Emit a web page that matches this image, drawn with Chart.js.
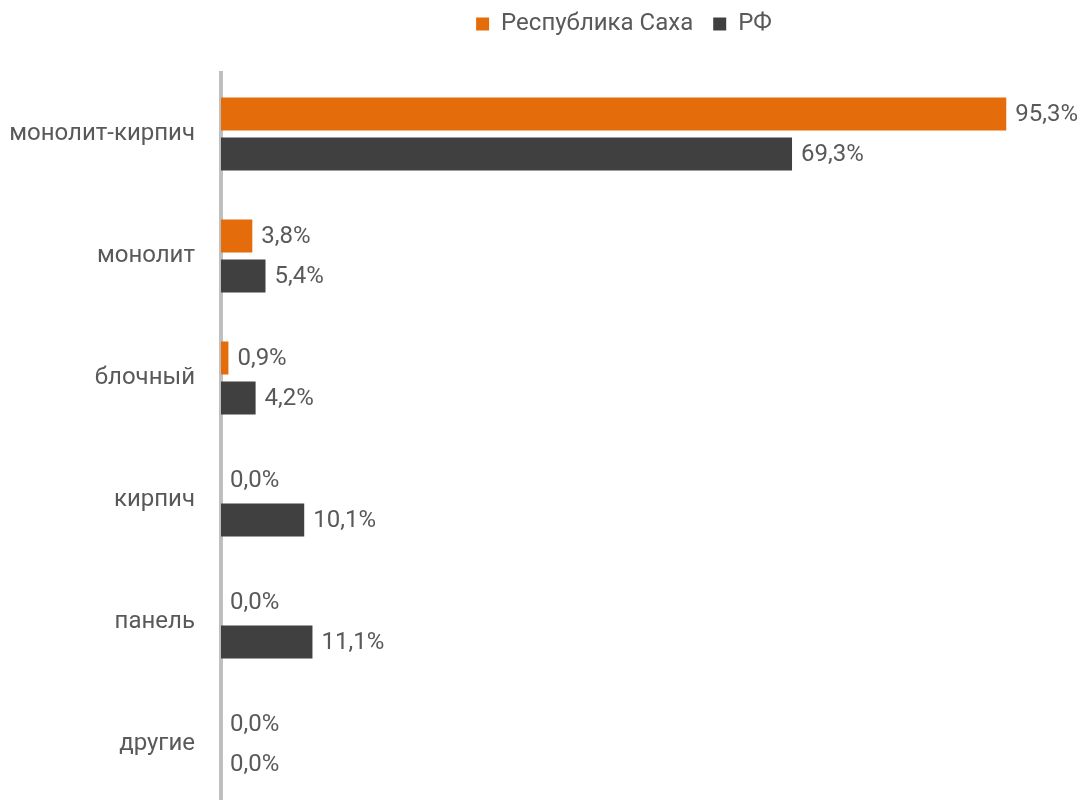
<!DOCTYPE html>
<html>
<head>
<meta charset="utf-8">
<script src="https://cdn.jsdelivr.net/npm/chart.js@4"></script>
<style>
  body { margin: 0; background: #fff; }
  canvas { display: block; }
</style>
</head>
<body>
<canvas id="chart" width="1084" height="800"></canvas>
<script>
// Типы стен в жилом строительстве — Республика Саха vs РФ
const categories = ['монолит-кирпич', 'монолит', 'блочный', 'кирпич', 'панель', 'другие'];
const sakhaValues = [95.3, 3.8, 0.9, 0.0, 0.0, 0.0];
const rfValues = [69.3, 5.4, 4.2, 10.1, 11.1, 0.0];
const seriesNames = ['Республика Саха', 'РФ'];

const textColor = '#595959';
const font = 'Roboto';

// percent labels at the end of each bar
const valueLabels = {
  id: 'valueLabels',
  afterDatasetsDraw(chart) {
    const ctx = chart.ctx;
    ctx.save();
    ctx.font = '24px ' + font;
    ctx.fillStyle = textColor;
    ctx.textAlign = 'left';
    ctx.textBaseline = 'middle';
    chart.data.datasets.forEach((ds, i) => {
      chart.getDatasetMeta(i).data.forEach((bar, j) => {
        const txt = ds.data[j].toFixed(1).replace('.', ',') + '%';
        ctx.fillText(txt, bar.x + 9, bar.y + 1);
      });
    });
    ctx.restore();
  }
};

// legend spacing, and the plot runs slightly past the bottom edge like the original
const layoutTweaks = {
  id: 'layoutTweaks',
  beforeInit(chart) {
    const fit = chart.legend.fit;
    chart.legend.fit = function () {
      fit.call(this);
      this.height = 81;
    };
  },
  afterLayout(chart) {
    chart.legend.left -= 9;
    chart.legend.right -= 9;
    const y = chart.scales.y;
    y.bottom = 805;
    y.height = y.bottom - y.top;
    chart.chartArea.bottom = 805;
    chart.chartArea.height = 805 - chart.chartArea.top;
    y.configure();
  }
};

new Chart(document.getElementById('chart'), {
  type: 'bar',
  data: {
    labels: categories,
    datasets: [
      { label: seriesNames[0], data: sakhaValues, backgroundColor: '#E46C0A' },
      { label: seriesNames[1], data: rfValues, backgroundColor: '#404040' }
    ]
  },
  options: {
    indexAxis: 'y',
    responsive: false,
    animation: false,
    categoryPercentage: 0.656,
    barPercentage: 0.825,
    layout: { padding: { left: 0, right: 39, top: -8, bottom: 0 } },
    scales: {
      x: { display: false, min: 0, max: 100 },
      y: {
        grid: { display: false, drawTicks: false },
        border: { display: true, color: '#BFBFBF', width: 4 },
        ticks: { color: textColor, font: { family: font, size: 24 }, padding: 26 },
        afterFit(scale) {
          scale.width = 221;
          scale.paddingTop = 0;
          scale.paddingBottom = 0;
        }
      }
    },
    plugins: {
      legend: {
        position: 'top',
        fullSize: false,
        labels: {
          color: textColor,
          font: { family: font, size: 24 },
          boxWidth: 13,
          boxHeight: 13,
          padding: 20
        }
      },
      tooltip: { enabled: false }
    }
  },
  plugins: [valueLabels, layoutTweaks]
});
</script>
</body>
</html>
